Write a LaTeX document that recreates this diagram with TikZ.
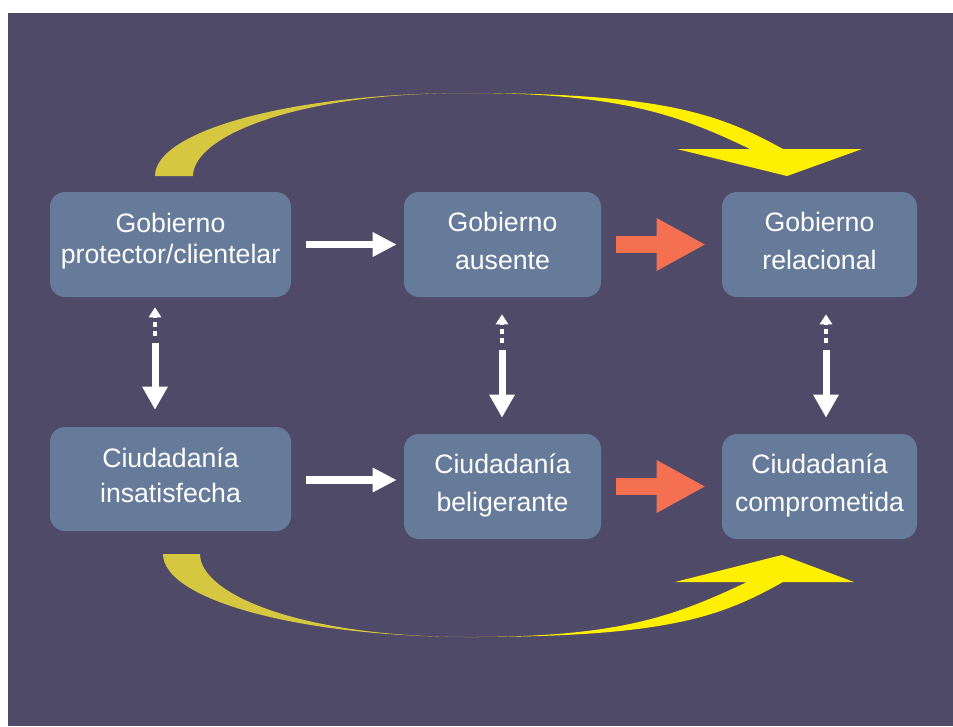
\documentclass[tikz,border=0pt]{standalone}
\usepackage{fontspec}
\setmainfont{Liberation Sans}
\usetikzlibrary{arrows.meta,calc}
\definecolor{bgc}{HTML}{504A69}
\definecolor{boxc}{HTML}{667A9A}
\definecolor{ymuted}{HTML}{D5C840}
\definecolor{ybright}{HTML}{FFF000}
\definecolor{orangec}{HTML}{F47050}
\begin{document}
\begin{tikzpicture}[x=0.75pt,y=-0.75pt,
  box/.style={fill=boxc, rounded corners=11.25pt, draw=none, inner sep=0pt},
  txt/.style={text=white, font=\fontsize{20pt}{24pt}\selectfont, inner sep=0pt, anchor=base},
  wharrow/.style={draw=white, line width=5.6pt, -{Triangle[width=17.25pt,length=18pt]}},
  orarrow/.style={draw=orangec, line width=12.75pt, -{Triangle[width=36.75pt,length=36.75pt]}},
  downarrow/.style={draw=white, line width=5.25pt, -{Triangle[width=18pt,length=17.25pt]}},
  uparrow/.style={draw=white, line width=3pt, dash pattern=on 3.75pt off 3pt, -{Triangle[width=9pt,length=7.5pt]}},
]
\useasboundingbox (0,0) rectangle (953,726);
\fill[white] (0,0) rectangle (953,726);
\fill[bgc] (8,13) rectangle (953,726);

% curved arrows
\fill[ymuted] (155,176) .. controls (155,130.2) and (294.7,93) .. (467,93)
  .. controls (297,93) and (193,136) .. (193,176) -- cycle;
\fill[ybright] (467,93) .. controls (667,93) and (721.6,115.4) .. (783,149)
  -- (862,149) -- (787,176) -- (677,149) -- (750,149)
  .. controls (678,114.2) and (617,93) .. (467,93) -- cycle;
\fill[ymuted] (163,554) .. controls (163,599.8) and (300.4,637) .. (470,637)
  .. controls (300,637) and (200,594) .. (200,554) -- cycle;
\fill[ybright] (470,637) .. controls (670,637) and (722,616) .. (783,582)
  -- (854,582) -- (782,555) -- (675,582) -- (747,582)
  .. controls (675,616) and (620,637) .. (470,637) -- cycle;

% boxes
\node[box, minimum width=180.75pt, minimum height=78.75pt] (b1) at (170.5,244.5) {};
\node[box, minimum width=147.75pt, minimum height=78.75pt] (b2) at (502.5,244.5) {};
\node[box, minimum width=146.25pt, minimum height=78.75pt] (b3) at (819.5,244.5) {};
\node[box, minimum width=180.75pt, minimum height=78pt] (b4) at (170.5,479) {};
\node[box, minimum width=147.75pt, minimum height=78.75pt] (b5) at (502.5,486.5) {};
\node[box, minimum width=146.25pt, minimum height=78.75pt] (b6) at (819.5,486.5) {};

% texts
\node[txt] (t1a) at (170.5,232) {Gobierno};
\node[txt] (t1b) at (170.5,263) {protector/clientelar};
\node[txt] (t2a) at (502.5,231) {Gobierno};
\node[txt] (t2b) at (502.5,269) {ausente};
\node[txt] (t3a) at (819.5,231) {Gobierno};
\node[txt] (t3b) at (819.5,269) {relacional};
\node[txt] (t4a) at (170.5,467) {Ciudadanía};
\node[txt] (t4b) at (170.5,502) {insatisfecha};
\node[txt] (t5a) at (502.5,473) {Ciudadanía};
\node[txt] (t5b) at (502.5,511) {beligerante};
\node[txt] (t6a) at (819.5,473) {Ciudadanía};
\node[txt] (t6b) at (819.5,511) {comprometida};

% horizontal arrows
\draw[wharrow] ($(b1.east)+(15,0)$) -- ($(b2.west)+(-7,0)$);
\draw[wharrow] ($(b4.east)+(15,1)$) -- ($(b5.west |- b4.east)+(-7,1)$);
\draw[orarrow] ($(b2.east)+(15,0)$) -- ($(b3.west)+(-16,0)$);
\draw[orarrow] ($(b5.east)+(15,0)$) -- ($(b6.west)+(-16,0)$);

% vertical arrows
\draw[uparrow] ($(b1.south)+(-15.5,39)$) -- ($(b1.south)+(-15.5,10)$);
\draw[downarrow] ($(b1.south)+(-15.5,46)$) -- ($(b4.north)+(-15.5,-17)$);
\draw[uparrow] ($(b2.south)+(-0.5,46)$) -- ($(b2.south)+(-0.5,17)$);
\draw[downarrow] ($(b2.south)+(-0.5,53)$) -- ($(b5.north)+(-0.5,-16)$);
\draw[uparrow] ($(b3.south)+(6.5,46)$) -- ($(b3.south)+(6.5,17)$);
\draw[downarrow] ($(b3.south)+(6.5,53)$) -- ($(b6.north)+(6.5,-16)$);
\end{tikzpicture}
\end{document}
